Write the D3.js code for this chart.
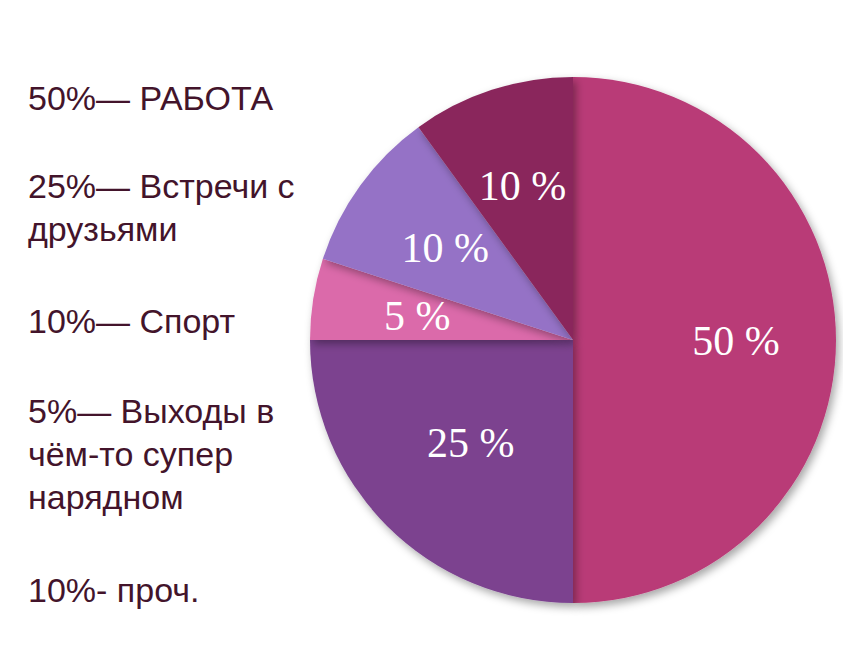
<!DOCTYPE html>
<html><head><meta charset="utf-8">
<script src="https://cdn.jsdelivr.net/npm/d3@7"></script>
<style>body{margin:0;background:#fff}</style></head>
<body><svg id="c" width="843" height="652"></svg>
<script>
const categories = ["Работа","Встречи с друзьями","Выходы","Спорт","Прочее"];
const values = [50,25,5,10,10];
const sliceLabels = ["50 %","25 %","5 %","10 %","10 %"];
const colors = ["#B93A77","#7B438F","#DB6AAA","#9572C6","#8A275C"];
const legendLines = [
  ["50%— РАБОТА"],
  ["25%— Встречи с","друзьями"],
  ["10%— Спорт"],
  ["5%— Выходы в","чём-то супер","нарядном"],
  ["10%- проч."]
];
const legendY = [110, 198, 333, 423, 602];

const svg = d3.select("#c");
const defs = svg.append("defs");
const f = defs.append("filter").attr("id","sh").attr("x","-10%").attr("y","-10%").attr("width","130%").attr("height","130%");
f.append("feDropShadow").attr("dx",3).attr("dy",4).attr("stdDeviation",4).attr("flood-color","#000").attr("flood-opacity",0.35);

const cx = 573, cy = 340, r = 263;
const pie = d3.pie().sort(null).value(d=>d);
const arcs = pie(values);
const arc = d3.arc().innerRadius(0).outerRadius(r);
const g = svg.append("g").attr("transform",`translate(${cx},${cy})`);
g.selectAll("path").data(arcs).join("path")
  .attr("d",arc).attr("fill",(d,i)=>colors[i]).attr("filter","url(#sh)");
const lr = [0.62,0.55,0.6,0.6,0.62];
g.selectAll("text").data(arcs).join("text")
  .attr("transform",(d,i)=>{const a=(d.startAngle+d.endAngle)/2;const rr=r*lr[i];return `translate(${Math.sin(a)*rr},${-Math.cos(a)*rr})`;})
  .attr("text-anchor","middle").attr("dy","0.35em")
  .attr("fill","#fff").attr("font-family","Liberation Serif, serif").attr("font-size",42)
  .text((d,i)=>sliceLabels[i]);

const lg = svg.append("g").attr("font-family","Liberation Sans, Arial, sans-serif").attr("font-size",34).attr("fill","#43142B");
legendLines.forEach((lines,i)=>{
  lines.forEach((t,j)=>{
    lg.append("text").attr("x",28).attr("y",legendY[i]+j*43).text(t);
  });
});
</script></body></html>
